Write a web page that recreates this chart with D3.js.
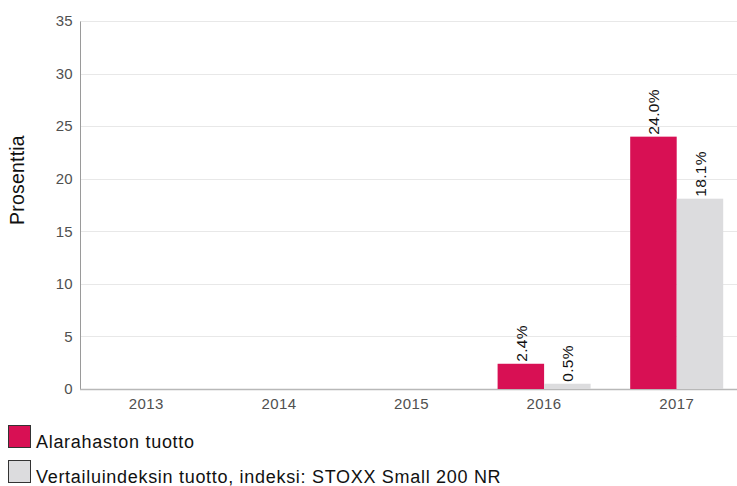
<!DOCTYPE html>
<html>
<head>
<meta charset="utf-8">
<script src="https://cdn.jsdelivr.net/npm/d3@7"></script>
<style>
  body { margin: 0; background: #fff; }
  svg { display: block; font-family: "Liberation Sans", Arial, sans-serif; }
</style>
</head>
<body>
<div id="chart"></div>
<script>
// data
const years = ["2013", "2014", "2015", "2016", "2017"];
const fundReturn = [null, null, null, 2.4, 24.0];
const indexReturn = [null, null, null, 0.5, 18.1];
const seriesNames = ["Alarahaston tuotto", "Vertailuindeksin tuotto, indeksi: STOXX Small 200 NR"];
const seriesColors = ["#d81054", "#dcdcde"];
const yTicks = [0, 5, 10, 15, 20, 25, 30, 35];

const W = 737, H = 486;
var margin = {top: 21, right: -6, bottom: 97, left: 80},
    width = W - margin.left - margin.right,
    height = H - margin.top - margin.bottom;

const svg = d3.select("#chart").append("svg")
  .attr("width", W).attr("height", H);
const g = svg.append("g")
  .attr("transform", "translate(" + margin.left + "," + margin.top + ")");

const x = d3.scaleBand().domain(years).range([0, width]);
const y = d3.scaleLinear().domain([0, 35]).range([height, 0]);
const inner = d3.scaleBand().domain([0, 1]).range([0, 93]);

// gridlines
g.append("g").selectAll("line").data(yTicks.filter(d => d > 0)).enter()
  .append("line")
  .attr("x1", 0).attr("x2", width)
  .attr("y1", d => Math.round(y(d)) + 0.5).attr("y2", d => Math.round(y(d)) + 0.5)
  .attr("stroke", "#e8e8e8").attr("stroke-width", 1);

// y axis
const yAxis = g.append("g").call(d3.axisLeft(y).tickValues(yTicks).tickSize(0).tickPadding(7));
yAxis.select(".domain").attr("stroke", "#9a9a9a");
yAxis.selectAll("text").attr("fill", "#505050").style("font-size", "15px").style("letter-spacing", "0.3px");

// x axis
const xAxis = g.append("g").attr("transform", "translate(0," + height + ")")
  .call(d3.axisBottom(x).tickSize(0).tickPadding(9));
xAxis.select(".domain").attr("stroke", "#b8b8b8").attr("stroke-width", 1.5).attr("d", "M0,0.5H" + width);
xAxis.selectAll("text").attr("fill", "#505050").style("font-size", "15px").style("letter-spacing", "0.4px");

// bars
const rows = [];
years.forEach(function(yr, i) {
  [fundReturn[i], indexReturn[i]].forEach(function(v, s) {
    if (v !== null) rows.push({year: yr, s: s, v: v});
  });
});

const bx = d => x(d.year) + x.bandwidth() / 2 - 46.5 + inner(d.s);
g.append("g").selectAll("rect").data(rows).enter()
  .append("rect")
  .attr("x", bx)
  .attr("y", d => y(d.v))
  .attr("width", inner.bandwidth())
  .attr("height", d => y(0) - y(d.v))
  .attr("fill", d => seriesColors[d.s]);

// value labels
g.append("g").selectAll("text").data(rows).enter()
  .append("text")
  .attr("transform", d => "translate(" + (bx(d) + inner.bandwidth() / 2 + 6) + "," + (y(d.v) - 2) + ") rotate(-90)")
  .attr("text-anchor", "start")
  .attr("fill", "#111")
  .style("font-size", "15.5px")
  .style("letter-spacing", "0.3px")
  .text(d => d.v.toFixed(1) + "%");

// y title
svg.append("text")
  .attr("transform", "translate(24,180) rotate(-90)")
  .attr("text-anchor", "middle")
  .attr("fill", "#111")
  .style("font-size", "19.5px")
  .style("letter-spacing", "0.2px")
  .text("Prosenttia");

// legend
const leg = svg.append("g").selectAll("g").data(seriesNames).enter()
  .append("g")
  .attr("transform", (d, i) => "translate(8," + (425 + i * 35) + ")");
leg.append("rect")
  .attr("x", 0.5).attr("y", 0.5).attr("width", 22).attr("height", 22)
  .attr("fill", (d, i) => seriesColors[i])
  .attr("stroke", "#333").attr("stroke-width", 1);
leg.append("text")
  .attr("x", 28).attr("y", 22.5)
  .attr("fill", "#111")
  .style("font-size", "18px")
  .style("letter-spacing", "0.7px")
  .text(d => d);
</script>
</body>
</html>
